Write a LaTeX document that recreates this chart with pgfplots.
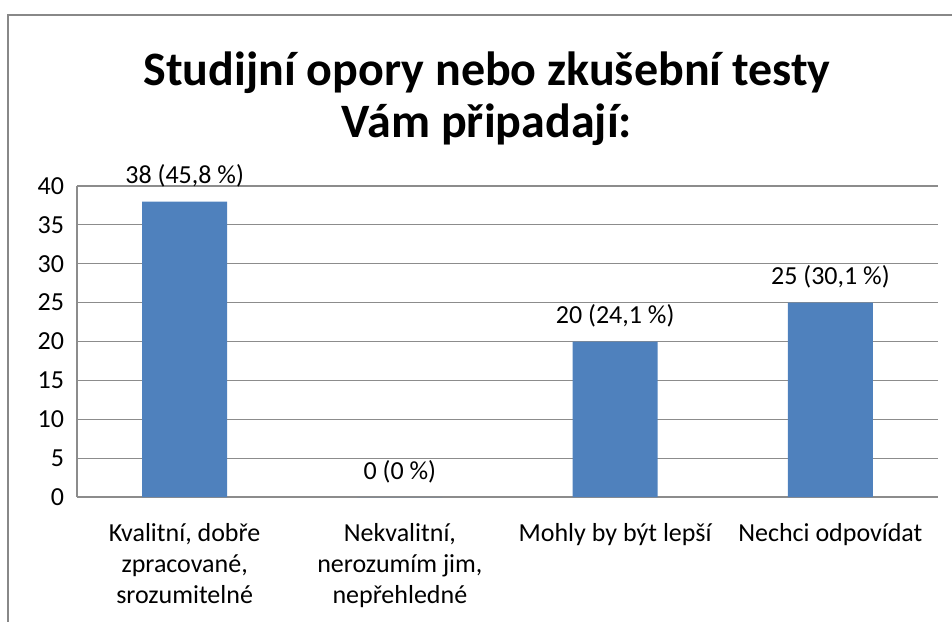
\documentclass[border=0pt]{standalone}
\usepackage{fontspec}
\setmainfont{Carlito}
\usepackage{pgfplots}
\pgfplotsset{compat=1.18}
\definecolor{barblue}{HTML}{4F81BD}
\definecolor{gridgray}{HTML}{8C8C8C}
\definecolor{framegray}{HTML}{888888}

\begin{document}
\begin{tikzpicture}
% 1 px of the reference = 0.5pt, origin at the axis' lower left corner
\useasboundingbox (-38.5pt,-62pt) rectangle (437.5pt,248.5pt);
\draw[framegray, line width=1.3pt] (-34.5pt,-80pt) -- (-34.5pt,241pt) -- (460pt,241pt);

\begin{axis}[
  at={(0,0)}, anchor=south west,
  scale only axis,
  width=430.5pt, height=155.5pt,
  ybar, bar width=42.5pt,
  xmin=-0.5, xmax=3.5,
  ymin=0, ymax=40,
  ytick={0,5,...,40},
  xtick=data,
  xticklabels={{Kvalitní, dobře\\zpracované,\\srozumitelné},
               {Nekvalitní,\\nerozumím jim,\\nepřehledné},
               {Mohly by být lepší},
               {Nechci odpovídat}},
  axis lines*=left,
  axis line style={-, draw=gridgray, line width=0.6pt},
  ymajorgrids,
  grid style={draw=gridgray, line width=0.6pt},
  major tick length=0pt,
  /pgf/number format/assume math mode=true,
  ticklabel style={font=\fontsize{13}{15.5}\selectfont},
  yticklabel style={xshift=-3pt},
  xticklabel style={align=center, yshift=-9.5pt},
  point meta=explicit symbolic,
  nodes near coords,
  nodes near coords style={font=\fontsize{13}{15}\selectfont, yshift=3.5pt, text=black},
]
\addplot[fill=barblue, draw=none] coordinates {
  (0,38) [38 (45,8 \%)]
  (1,0)  [0 (0 \%)]
  (2,20) [20 (24,1 \%)]
  (3,25) [25 (30,1 \%)]
};
\end{axis}

\node[align=center, font=\bfseries\fontsize{24}{26}\selectfont] at (205pt,199pt)
  {Studijní opory nebo zkušební testy\\Vám připadají:};
\end{tikzpicture}
\end{document}
